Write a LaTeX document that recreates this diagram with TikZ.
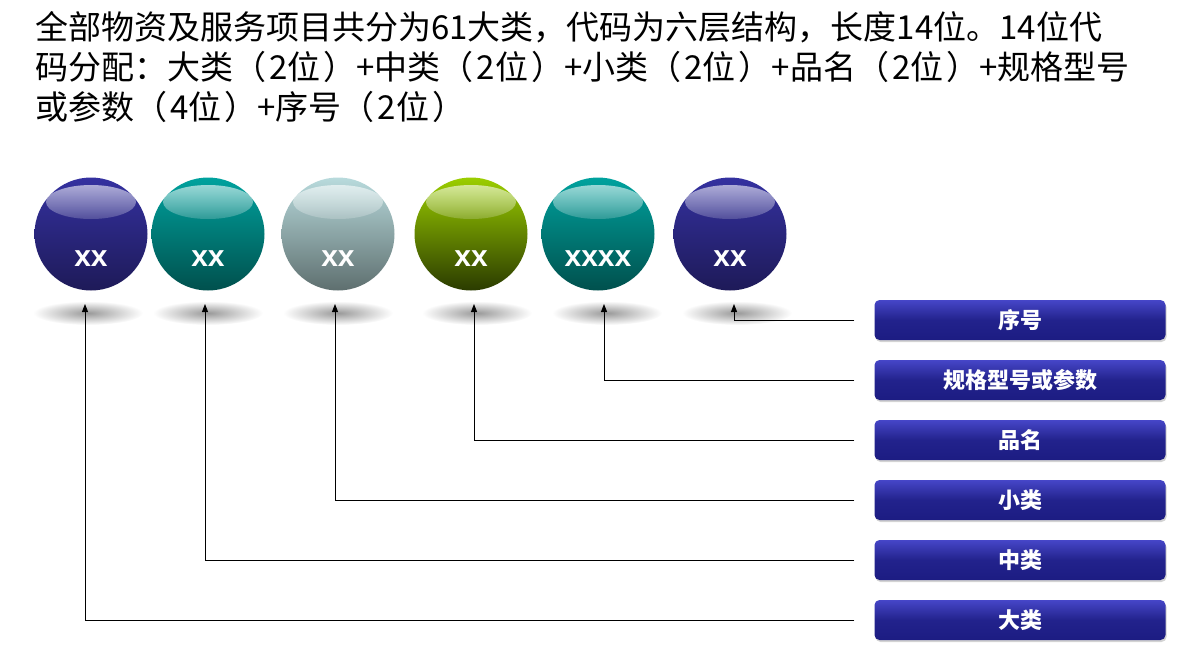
\documentclass[tikz,border=0pt]{standalone}
\usepackage{fontspec}
\setmainfont{Liberation Sans}
\newfontfamily\cjk{Noto Sans CJK SC}
\usetikzlibrary{arrows.meta,fadings,shadows}
\definecolor{blueA}{HTML}{3431A0}
\definecolor{blueB}{HTML}{1E1A58}
\definecolor{tealA}{HTML}{00A29E}
\definecolor{tealB}{HTML}{00504D}
\definecolor{greyA}{HTML}{B8DADC}
\definecolor{greyB}{HTML}{5E6F6F}
\definecolor{greenA}{HTML}{9CCE00}
\definecolor{greenB}{HTML}{2A3B00}
\definecolor{tagA}{HTML}{4646C8}
\definecolor{tagB}{HTML}{1C1C82}
\tikzset{
  ball/.style 2 args={circle, minimum size=113pt, inner sep=0pt, top color=#1, bottom color=#2},
  balltext/.style={font=\bfseries\fontsize{30}{30}\selectfont, text=white},
  tag/.style={rounded corners=5pt, minimum width=291pt, minimum height=40pt,
    top color=tagA, bottom color=tagB, middle color=tagB!85!tagA, text=white,
    font=\cjk\bfseries\fontsize{22}{22}\selectfont,
    drop shadow={shadow xshift=1pt, shadow yshift=-2pt, opacity=0.35}},
  pin/.style={draw, line width=1pt, -{Triangle[length=8pt,width=6pt]}}
}
\begin{document}
\begin{tikzpicture}[x=1pt,y=-1pt]
\useasboundingbox (0,0) rectangle (1178,653);
\node[anchor=north west, align=left, inner sep=0pt, font=\cjk\fontsize{33}{40}\selectfont] (title) at (35,11)
  {全部物资及服务项目共分为61大类，代码为六层结构，长度14位。14位代\\
   码分配：大类（\kern3pt 2位\kern3pt）+中类（\kern3pt 2位\kern3pt）+小类（\kern3pt 2位\kern3pt）+品名（\kern3pt 2位\kern3pt）+规格型号\\
   或参数（\kern3pt 4位\kern3pt）+序号（\kern3pt 2位\kern3pt）};

\foreach \i/\x/\c/\d/\t in {1/91/blueA/blueB/xx, 2/208/tealA/tealB/xx, 3/338/greyA/greyB/xx,
  4/471/greenA/greenB/xx, 5/598/tealA/tealB/xxxx, 6/730/blueA/blueB/xx}
{
  \node[ball={\c}{\d}] (ball\i) at (\x,234) {};
  \fill[white, path fading=south, opacity=0.6] (ball\i.center) ++(0,-32) ellipse [x radius=45, y radius=17];
  \node[balltext] (lab\i) at ([yshift=-25pt]ball\i.center) {\t};
}

\foreach \i/\a/\y/\t in {1/85/620/大类, 2/205/560/中类, 3/335/500/小类, 4/474/440/品名,
  5/604/380/规格型号或参数, 6/734/320/序号}
{
  \shade[inner color=black!40, outer color=white] (\a+3,313) ellipse [x radius=55, y radius=12];
  \node[tag] (tag\i) at (1020,\y) {\t};
  \coordinate (tip\i) at (\a,304);
  \draw[pin] ([xshift=-20pt]tag\i.west) -| (tip\i);
}
\end{tikzpicture}
\end{document}
